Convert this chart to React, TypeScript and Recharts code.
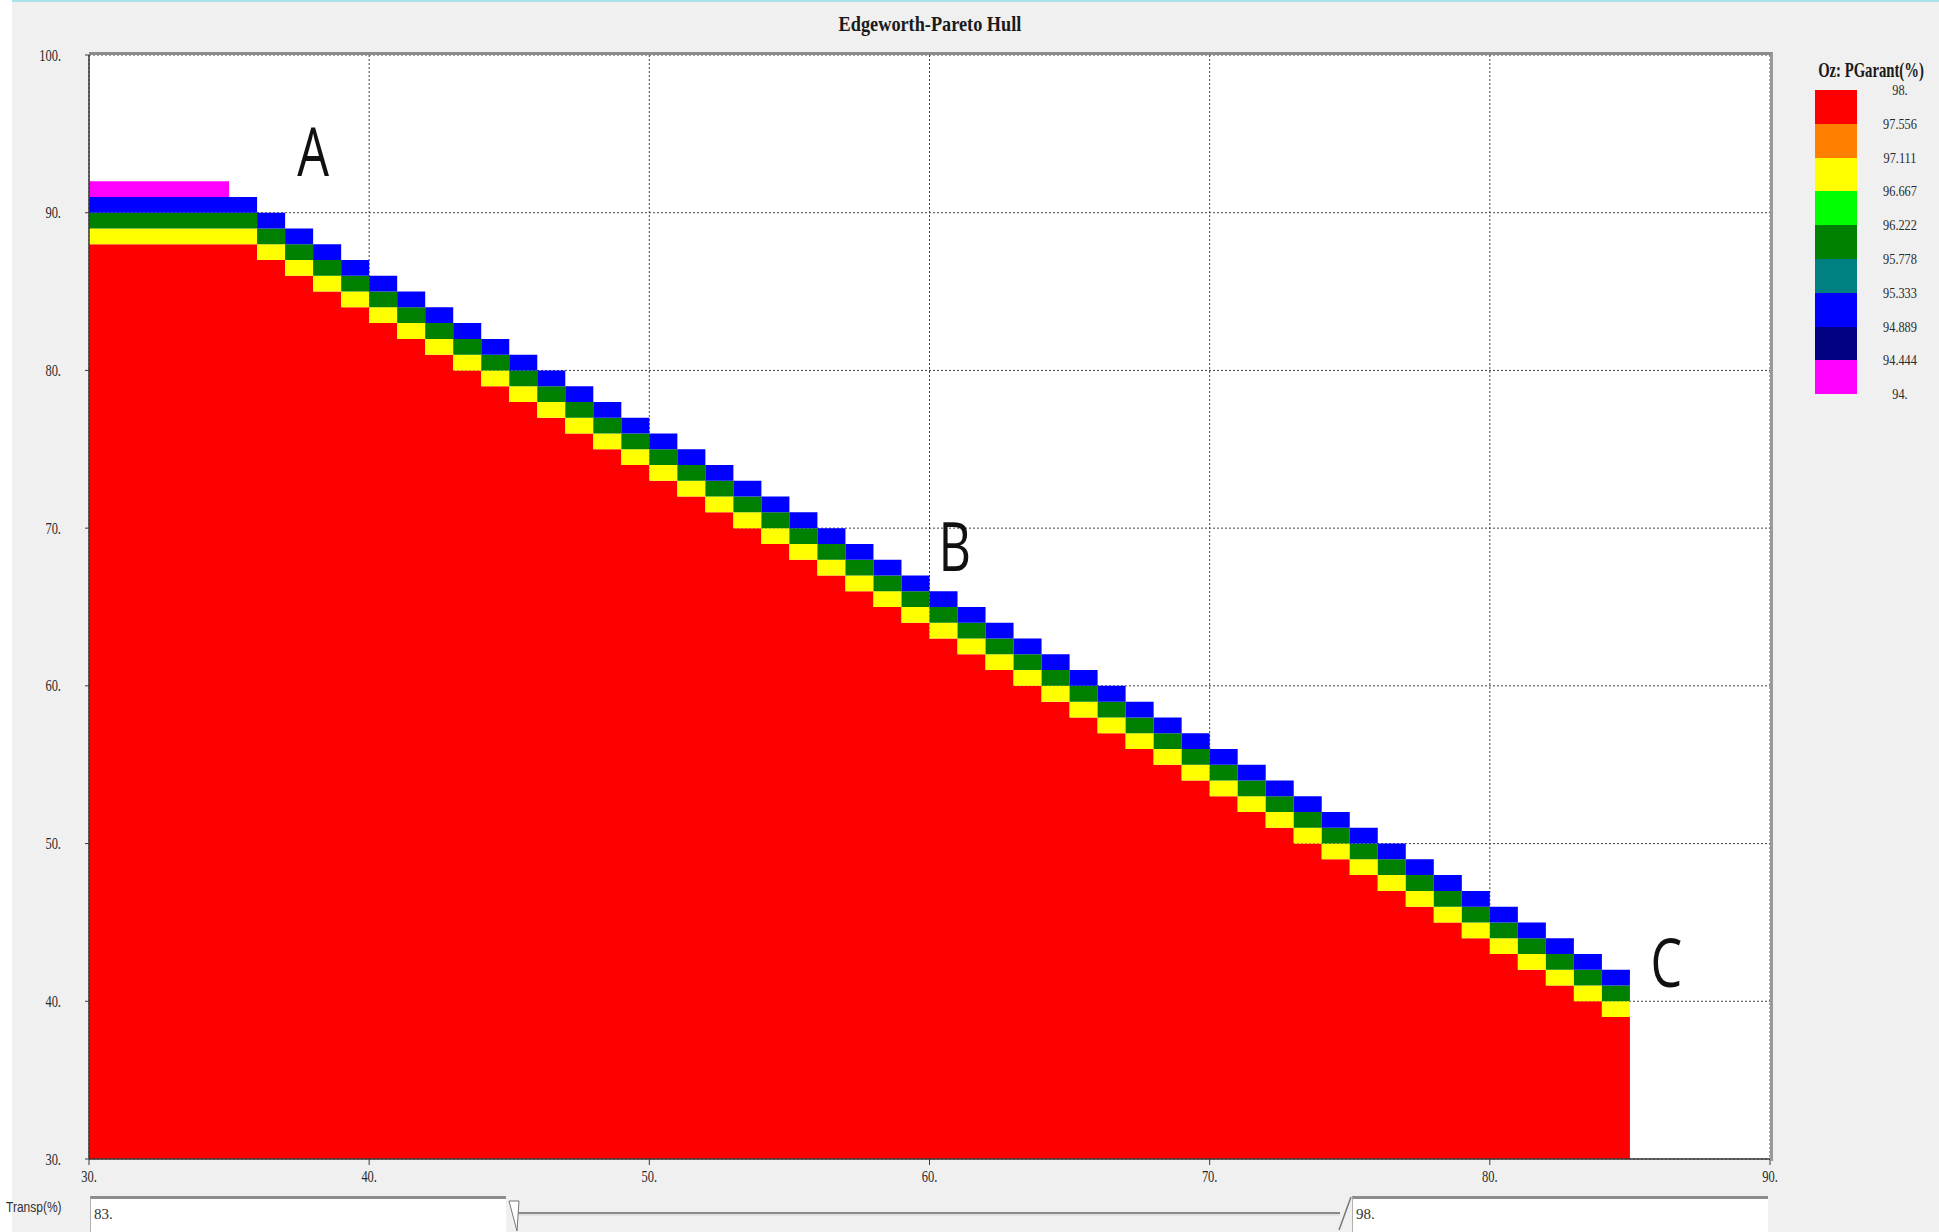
import React from 'react';
import { Area, AreaChart, CartesianGrid, ReferenceDot, XAxis, YAxis } from 'recharts';

// Transp(%) cells, 1 unit wide each (last entry closes the hull at 85)
const transpCells = [
  30, 31, 32, 33, 34, 35, 36, 37, 38, 39, 40, 41, 42, 43,
  44, 45, 46, 47, 48, 49, 50, 51, 52, 53, 54, 55, 56, 57,
  58, 59, 60, 61, 62, 63, 64, 65, 66, 67, 68, 69, 70, 71,
  72, 73, 74, 75, 76, 77, 78, 79, 80, 81, 82, 83, 84, 85,
];

// top of the red zone for every cell
const redTop = [
  88, 88, 88, 88, 88, 88, 87, 86, 85, 84, 83, 82, 81, 80,
  79, 78, 77, 76, 75, 74, 73, 72, 71, 70, 69, 68, 67, 66,
  65, 64, 63, 62, 61, 60, 59, 58, 57, 56, 55, 54, 53, 52,
  51, 50, 49, 48, 47, 46, 45, 44, 43, 42, 41, 40, 39, 39,
];

// thickness of the coloured bands stacked above the red zone
const yellowBand = [
  1, 1, 1, 1, 1, 1, 1, 1, 1, 1, 1, 1, 1, 1,
  1, 1, 1, 1, 1, 1, 1, 1, 1, 1, 1, 1, 1, 1,
  1, 1, 1, 1, 1, 1, 1, 1, 1, 1, 1, 1, 1, 1,
  1, 1, 1, 1, 1, 1, 1, 1, 1, 1, 1, 1, 1, 1,
];
const greenBand = [
  1, 1, 1, 1, 1, 1, 1, 1, 1, 1, 1, 1, 1, 1,
  1, 1, 1, 1, 1, 1, 1, 1, 1, 1, 1, 1, 1, 1,
  1, 1, 1, 1, 1, 1, 1, 1, 1, 1, 1, 1, 1, 1,
  1, 1, 1, 1, 1, 1, 1, 1, 1, 1, 1, 1, 1, 1,
];
const blueBand = [
  1, 1, 1, 1, 1, 1, 1, 1, 1, 1, 1, 1, 1, 1,
  1, 1, 1, 1, 1, 1, 1, 1, 1, 1, 1, 1, 1, 1,
  1, 1, 1, 1, 1, 1, 1, 1, 1, 1, 1, 1, 1, 1,
  1, 1, 1, 1, 1, 1, 1, 1, 1, 1, 1, 1, 1, 1,
];
const magentaBand = [
  1, 1, 1, 1, 1, 0, 0, 0, 0, 0, 0, 0, 0, 0,
  0, 0, 0, 0, 0, 0, 0, 0, 0, 0, 0, 0, 0, 0,
  0, 0, 0, 0, 0, 0, 0, 0, 0, 0, 0, 0, 0, 0,
  0, 0, 0, 0, 0, 0, 0, 0, 0, 0, 0, 0, 0, 0,
];

const xTicks = [30, 40, 50, 60, 70, 80, 90];
const yTicks = [30, 40, 50, 60, 70, 80, 90, 100];

const legendColors = ['#ff0000', '#ff8000', '#ffff00', '#00ff00', '#008000', '#008080', '#0000ff', '#000080', '#ff00ff'];
const legendLabels = ['98.', '97.556', '97.111', '96.667', '96.222', '95.778', '95.333', '94.889', '94.444', '94.'];

const annotations = [
  { label: 'A', x: 38, y: 92.3 },
  { label: 'B', x: 60.9, y: 67.3 },
  { label: 'C', x: 86.3, y: 40.9 },
];

const sliderValues = ['83.', '98.'];

const data = transpCells.map((x, i) => ({
  x,
  red: redTop[i],
  yellow: yellowBand[i],
  green: greenBand[i],
  blue: blueBand[i],
  magenta: magentaBand[i],
}));

const SERIF = "'Liberation Serif', 'Times New Roman', serif";

function XTick(props: any) {
  const { x, y, payload } = props;
  return (
    <g transform={`translate(${x},${y})`}>
      <text transform="scale(0.78,1)" textAnchor="middle" dy="0.71em" fontSize={16} fontFamily={SERIF} fill="#2a2a2a">
        {`${payload.value}.`}
      </text>
    </g>
  );
}

function YTick(props: any) {
  const { x, y, payload } = props;
  return (
    <g transform={`translate(${x},${y})`}>
      <text transform="scale(0.78,1)" textAnchor="end" dy="0.35em" fontSize={16} fontFamily={SERIF} fill="#2a2a2a">
        {`${payload.value}.`}
      </text>
    </g>
  );
}

function PointLabel({ cx, cy, text }: any) {
  return (
    <g transform={`translate(${cx},${cy})`}>
      <text transform="scale(0.74,1)" textAnchor="middle" fontSize={68} fontFamily="'Open Sans', sans-serif" fill="#111">
        {text}
      </text>
    </g>
  );
}

const bands = [
  { key: 'red', color: '#ff0000' },
  { key: 'yellow', color: '#ffff00' },
  { key: 'green', color: '#008000' },
  { key: 'blue', color: '#0000ff' },
  { key: 'magenta', color: '#ff00ff' },
];

export default function App() {
  return (
    <div style={{ position: 'absolute', left: 0, top: 0, width: 1939, height: 1232, background: '#fff', overflow: 'hidden', fontFamily: SERIF }}>
      <div style={{ position: 'absolute', left: 12, top: 0, right: 0, bottom: 0, background: '#f0f0f0', borderTop: '2px solid #a9e3ea' }} />

      <div style={{ position: 'absolute', left: 630, top: 11, width: 600, textAlign: 'center', fontSize: 22, lineHeight: '26px', fontWeight: 'bold', color: '#1a1a1a', transform: 'scaleX(0.83)' }}>
        Edgeworth-Pareto Hull
      </div>

      <div style={{ position: 'absolute', left: 0, top: 0 }}>
        <AreaChart width={1939} height={1232} data={data} margin={{ top: 55, right: 169, bottom: 43, left: 0 }}>
          <CartesianGrid fill="#fff" fillOpacity={1} stroke="#444" strokeDasharray="2 2" />
          <XAxis
            dataKey="x"
            type="number"
            domain={[30, 90]}
            ticks={xTicks}
            interval={0}
            allowDataOverflow
            height={30}
            tickSize={6}
            tickMargin={6}
            axisLine={{ stroke: '#3a3a3a', strokeWidth: 1.5 }}
            tickLine={{ stroke: '#3a3a3a' }}
            tick={XTick}
          />
          <YAxis
            type="number"
            domain={[30, 100]}
            ticks={yTicks}
            interval={0}
            allowDataOverflow
            width={89}
            tickSize={4}
            tickMargin={24}
            axisLine={{ stroke: '#3a3a3a', strokeWidth: 1.5 }}
            tickLine={{ stroke: '#3a3a3a' }}
            tick={YTick}
          />
          {bands.map((b) => (
            <Area
              key={b.key}
              type="stepAfter"
              dataKey={b.key}
              stackId="hull"
              fill={b.color}
              fillOpacity={1}
              stroke="none"
              dot={false}
              activeDot={false}
              isAnimationActive={false}
            />
          ))}
          {annotations.map((a) => (
            <ReferenceDot
              key={a.label}
              x={a.x}
              y={a.y}
              r={0}
              shape={(p: any) => <PointLabel cx={p.cx} cy={p.cy} text={a.label} />}
            />
          ))}
        </AreaChart>
      </div>

      {/* plot frame, top and right edges */}
      <div style={{ position: 'absolute', left: 89, top: 52, width: 1681, height: 1106, borderTop: '3px solid #8c8c8c', borderRight: '3px solid #9a9a9a', pointerEvents: 'none' }} />

      {/* colour scale */}
      <div style={{ position: 'absolute', left: 1771, top: 58, width: 200, textAlign: 'center', fontSize: 21, lineHeight: '24px', fontWeight: 'bold', color: '#1a1a1a', transform: 'scaleX(0.7)' }}>
        Oz: PGarant(%)
      </div>
      {legendColors.map((c, i) => (
        <div key={c} style={{ position: 'absolute', left: 1815, top: 90 + i * 33.8, width: 42, height: 33.8, background: c }} />
      ))}
      {legendLabels.map((l, i) => (
        <div key={l} style={{ position: 'absolute', left: 1860, top: 81 + i * 33.8, width: 80, textAlign: 'center', fontSize: 15, lineHeight: '18px', color: '#2a2a2a', transform: 'scaleX(0.82)' }}>
          {l}
        </div>
      ))}

      {/* Transp(%) range slider */}
      <div style={{ position: 'absolute', left: 6, top: 1197, fontSize: 15, lineHeight: '20px', color: '#333', fontFamily: "'Liberation Sans', sans-serif", transform: 'scaleX(0.8)', transformOrigin: 'left center' }}>
        Transp(%)
      </div>
      <div style={{ position: 'absolute', left: 90, top: 1196, width: 416, height: 40, background: '#fff', borderTop: '3px solid #8c8c8c', borderLeft: '1px solid #b0b0b0', fontSize: 15, lineHeight: '30px', paddingLeft: 3, color: '#333', boxSizing: 'border-box' }}>
        {sliderValues[0]}
      </div>
      <svg style={{ position: 'absolute', left: 506, top: 1195 }} width={848} height={37}>
        <line x1={12} y1={18} x2={834} y2={18} stroke="#8a8a8a" strokeWidth={2} />
        <line x1={12} y1={20} x2={834} y2={20} stroke="#d2d2d2" strokeWidth={1} />
        <polygon points="3,6 13,6 11,36" fill="#fff" stroke="#777" strokeWidth={1} />
        <line x1={833} y1={35} x2={845} y2={2} stroke="#777" strokeWidth={1.5} />
      </svg>
      <div style={{ position: 'absolute', left: 1352, top: 1196, width: 416, height: 40, background: '#fff', borderTop: '3px solid #8c8c8c', borderLeft: '1px solid #b0b0b0', fontSize: 15, lineHeight: '30px', paddingLeft: 3, color: '#333', boxSizing: 'border-box' }}>
        {sliderValues[1]}
      </div>
    </div>
  );
}
